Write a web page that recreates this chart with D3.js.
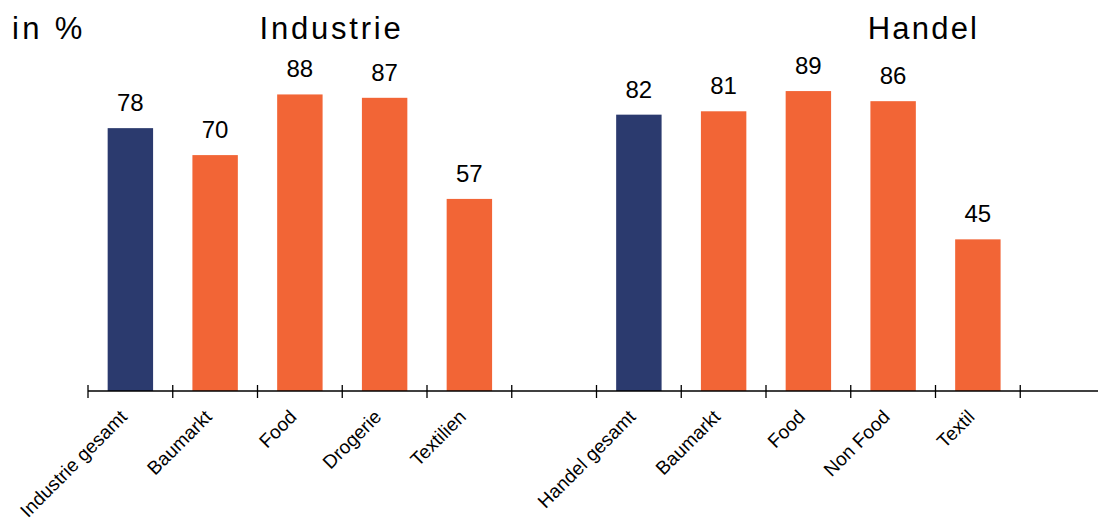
<!DOCTYPE html>
<html>
<head>
<meta charset="utf-8">
<script src="https://cdn.jsdelivr.net/npm/d3@7"></script>
<style>
  html, body { margin: 0; padding: 0; background: #fff; }
  svg { display: block; font-family: "Liberation Sans", Arial, sans-serif; }
</style>
</head>
<body>
<svg id="chart" width="1098" height="522"></svg>
<script>
// ---- data ----
const categories = ["Industrie gesamt", "Baumarkt", "Food", "Drogerie", "Textilien", "",
                    "Handel gesamt", "Baumarkt", "Food", "Non Food", "Textil", ""];
// bar heights as drawn in the picture (the "81" bar is drawn at about 83)
const barValues = [78, 70, 88, 87, 57, null, 82, 83, 89, 86, 45, null];
// value labels as printed
const valueLabels = ["78", "70", "88", "87", "57", "", "82", "81", "89", "86", "45", ""];
const groups = ["total", "sub", "sub", "sub", "sub", "", "total", "sub", "sub", "sub", "sub", ""];
const groupTitles = ["Industrie", "Handel"];
const unitLabel = "in %";
const yDomain = [0, 100];

// ---- layout ----
const W = 1098, H = 522;
const axisY = 391;
const x0 = 88, step = 84.75;
const colors = { total: "#2b3a6e", sub: "#f26536" };

const svg = d3.select("#chart");

const idx = categories.map((d, i) => i);
const x = d3.scaleBand()
  .domain(idx)
  .range([x0, x0 + step * categories.length])
  .paddingInner(0.464)
  .paddingOuter(0.232);

const y = d3.scaleLinear().domain(yDomain).range([axisY, axisY - 337]);

// bars
svg.append("g").selectAll("rect")
  .data(idx.filter(i => barValues[i] != null))
  .join("rect")
  .attr("x", i => x(i))
  .attr("width", x.bandwidth())
  .attr("y", i => y(barValues[i]))
  .attr("height", i => y(0) - y(barValues[i]))
  .attr("fill", i => colors[groups[i]]);

// value labels
svg.append("g").selectAll("text")
  .data(idx.filter(i => barValues[i] != null))
  .join("text")
  .attr("x", i => x(i) + x.bandwidth() / 2)
  .attr("y", i => y(barValues[i]) - 17)
  .attr("text-anchor", "middle")
  .attr("font-size", 24)
  .attr("fill", "#000")
  .text(i => valueLabels[i]);

// axis line
const gap = (x.step() - x.bandwidth()) / 2;
svg.append("line")
  .attr("x1", x0).attr("x2", W)
  .attr("y1", axisY).attr("y2", axisY)
  .attr("stroke", "#000").attr("stroke-width", 1.5);

// ticks at slot boundaries
const bounds = idx.map(i => x(i) - gap).filter(v => v <= W);
svg.append("g").selectAll("line")
  .data(bounds)
  .join("line")
  .attr("x1", d => d).attr("x2", d => d)
  .attr("y1", axisY - 6).attr("y2", axisY + 7)
  .attr("stroke", "#000").attr("stroke-width", 1.3);

// category labels
svg.append("g").selectAll("text")
  .data(idx.filter(i => categories[i] !== ""))
  .join("text")
  .attr("transform", i => `translate(${x(i) + x.bandwidth() / 2 - 2},${axisY + 27}) rotate(-45)`)
  .attr("text-anchor", "end")
  .attr("font-size", 19)
  .attr("letter-spacing", 0.1)
  .attr("fill", "#000")
  .text(i => categories[i]);

// titles
svg.append("text")
  .attr("x", 12).attr("y", 39)
  .attr("font-size", 31)
  .attr("letter-spacing", 3.3)
  .text(unitLabel);

svg.append("text")
  .attr("x", x(2) - gap + 2).attr("y", 39)
  .attr("font-size", 31)
  .attr("letter-spacing", 2.8)
  .text(groupTitles[0]);

svg.append("text")
  .attr("x", x(9) - gap + 17).attr("y", 39)
  .attr("font-size", 31)
  .attr("letter-spacing", 2.2)
  .text(groupTitles[1]);
</script>
</body>
</html>
